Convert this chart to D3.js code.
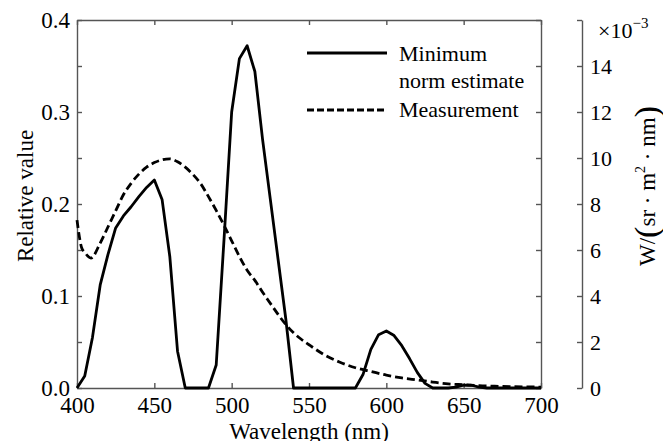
<!DOCTYPE html>
<html>
<head>
<meta charset="utf-8">
<script src="https://cdn.jsdelivr.net/npm/d3@7"></script>
<style>
  body { margin: 0; background: #fff; }
  .axis path, .axis line { stroke: #555; stroke-width: 1.4; }
</style>
</head>
<body>
<div id="chart"></div>
<script>
// wavelength grid of the minimum norm estimate (nm)
const estWavelength = [400, 405, 410, 415, 420, 425, 430, 435, 440, 445, 450, 455, 460, 465, 470, 475, 480, 485, 490, 495,
  500, 505, 510, 515, 520, 525, 530, 535, 540, 545, 550, 555, 560, 565, 570, 575, 580, 585, 590, 595,
  600, 605, 610, 615, 620, 625, 630, 635, 640, 645, 650, 655, 660, 665, 670, 675, 680, 685, 690, 695, 700];
// relative value (left axis)
const estValue = [0.0, 0.013, 0.055, 0.112, 0.145, 0.174, 0.187, 0.197, 0.208, 0.218, 0.226, 0.205, 0.143, 0.04, 0.0, 0.0, 0.0, 0.0, 0.025, 0.16,
  0.30, 0.358, 0.372, 0.344, 0.27, 0.205, 0.14, 0.075, 0.0, 0.0, 0.0, 0.0, 0.0, 0.0, 0.0, 0.0, 0.0, 0.015, 0.042, 0.058,
  0.062, 0.057, 0.046, 0.032, 0.017, 0.005, 0.0, 0.0, 0.0, 0.001, 0.003, 0.003, 0.001, 0.0, 0.0, 0.0, 0.0, 0.0, 0.0, 0.0, 0.0];

// measurement, in W/(sr·m²·nm) x 1e-3 (right axis)
const measWavelength = [400, 403, 405, 409, 415, 420, 425, 430, 435, 440, 445, 450, 455, 460, 465, 470, 475, 480, 485, 490,
  495, 500, 505, 510, 515, 520, 525, 530, 535, 540, 545, 550, 560, 570, 580, 590, 600, 610, 620, 630,
  640, 650, 660, 670, 680, 690, 700];
const measValue = [7.3, 6.1, 5.9, 5.65, 6.3, 7.0, 7.7, 8.4, 8.9, 9.3, 9.6, 9.8, 9.92, 9.96, 9.84, 9.6, 9.28, 8.88, 8.32, 7.72,
  7.08, 6.4, 5.72, 5.12, 4.68, 4.16, 3.68, 3.2, 2.76, 2.4, 2.12, 1.88, 1.44, 1.12, 0.88, 0.72, 0.56, 0.44, 0.35, 0.26,
  0.18, 0.14, 0.1, 0.08, 0.06, 0.05, 0.04];

const xTicks = [400, 450, 500, 550, 600, 650, 700];
const yTicks = [0, 0.05, 0.1, 0.15, 0.2, 0.25, 0.3, 0.35, 0.4];
const yLabelTicks = [0, 0.1, 0.2, 0.3, 0.4];
const rightTicks = [0, 2, 4, 6, 8, 10, 12, 14, 16];

const serif = "'Liberation Serif', 'Times New Roman', Times, 'DejaVu Serif', serif";

const margin = { top: 20, right: 122, bottom: 53, left: 77 };
const W = 663, H = 441;
const width = W - margin.left - margin.right;
const height = H - margin.top - margin.bottom;

const svg = d3.select("#chart").append("svg")
  .attr("width", W)
  .attr("height", H)
  .style("font-family", serif);

const g = svg.append("g")
  .attr("transform", `translate(${margin.left},${margin.top})`);

const x = d3.scaleLinear().domain([400, 700]).range([0, width]);
const y = d3.scaleLinear().domain([0, 0.4]).range([height, 0]);
const yR = d3.scaleLinear().domain([0, 16]).range([height, 0]);

const fmt = d => yLabelTicks.some(t => Math.abs(t - d) < 1e-9) ? d3.format(".1f")(d) : "";

// box axes, ticks pointing inward
g.append("g").attr("class", "axis")
  .call(d3.axisLeft(y).tickValues(yTicks).tickSize(-5).tickSizeOuter(0).tickPadding(7).tickFormat(fmt))
  .call(a => a.attr("font-family", null))
  .selectAll("text").attr("font-size", 23).style("font-family", serif);

g.append("g").attr("class", "axis")
  .attr("transform", `translate(0,${height})`)
  .call(d3.axisBottom(x).tickValues(xTicks).tickSize(-5).tickSizeOuter(0).tickPadding(9))
  .call(a => a.attr("font-family", null))
  .selectAll("text").attr("font-size", 23).style("font-family", serif);

g.append("g").attr("class", "axis")
  .call(d3.axisTop(x).tickValues(xTicks).tickSize(-5).tickSizeOuter(0).tickFormat(""));

g.append("g").attr("class", "axis")
  .attr("transform", `translate(${width},0)`)
  .call(d3.axisRight(y).tickValues(yTicks).tickSize(-5).tickSizeOuter(0).tickFormat(""));

// separate right axis for the measurement
const rx = width + 41;
g.append("g").attr("class", "axis")
  .attr("transform", `translate(${rx},0)`)
  .call(d3.axisRight(yR).tickValues(rightTicks).tickSize(-5).tickSizeOuter(0).tickPadding(8)
    .tickFormat(d => d === 16 ? "" : d))
  .call(a => a.attr("font-family", null))
  .selectAll("text").attr("font-size", 22).style("font-family", serif);

const mult = g.append("text")
  .attr("x", rx + 16)
  .attr("y", 18)
  .attr("font-size", 22);
mult.append("tspan").text("×10");
mult.append("tspan").attr("dy", -10).attr("font-size", 15).text("−3");

// curves
const estData = estWavelength.map((w, i) => ({ w: w, v: estValue[i] }));
const measData = measWavelength.map((w, i) => ({ w: w, v: measValue[i] }));

g.append("path")
  .datum(measData)
  .attr("fill", "none")
  .attr("stroke", "#000")
  .attr("stroke-width", 2.8)
  .attr("stroke-dasharray", "8,4")
  .attr("d", d3.line().x(d => x(d.w)).y(d => yR(d.v)).curve(d3.curveMonotoneX));

g.append("path")
  .datum(estData)
  .attr("fill", "none")
  .attr("stroke", "#000")
  .attr("stroke-width", 2.8)
  .attr("stroke-linejoin", "round")
  .attr("d", d3.line().x(d => x(d.w)).y(d => y(d.v)));

// legend
const legend = svg.append("g").attr("font-size", 22);
legend.append("line")
  .attr("x1", 307).attr("x2", 387).attr("y1", 53).attr("y2", 53)
  .attr("stroke", "#000").attr("stroke-width", 2.8);
legend.append("text").attr("x", 399).attr("y", 61).text("Minimum");
legend.append("text").attr("x", 399).attr("y", 88).text("norm estimate");
legend.append("line")
  .attr("x1", 307).attr("x2", 387).attr("y1", 110).attr("y2", 110)
  .attr("stroke", "#000").attr("stroke-width", 2.8).attr("stroke-dasharray", "7,3");
legend.append("text").attr("x", 399).attr("y", 117).text("Measurement");

// axis titles
svg.append("text")
  .attr("x", margin.left + width / 2)
  .attr("y", H - 2)
  .attr("text-anchor", "middle")
  .attr("font-size", 23)
  .text("Wavelength (nm)");

svg.append("text")
  .attr("transform", `translate(33,${margin.top + height / 2 - 8}) rotate(-90)`)
  .attr("text-anchor", "middle")
  .attr("font-size", 23)
  .text("Relative value");

const unit = svg.append("text")
  .attr("transform", `translate(655,186) rotate(-90)`)
  .attr("text-anchor", "middle")
  .attr("font-size", 23);
unit.append("tspan").text("W/");
unit.append("tspan").attr("font-size", 34).attr("dy", 3).text("(");
unit.append("tspan").attr("dy", -3).text("sr · m");
unit.append("tspan").attr("dy", -10).attr("font-size", 14).text("2");
unit.append("tspan").attr("dy", 10).text(" · nm");
unit.append("tspan").attr("font-size", 34).attr("dy", 3).text(")");
</script>
</body>
</html>
